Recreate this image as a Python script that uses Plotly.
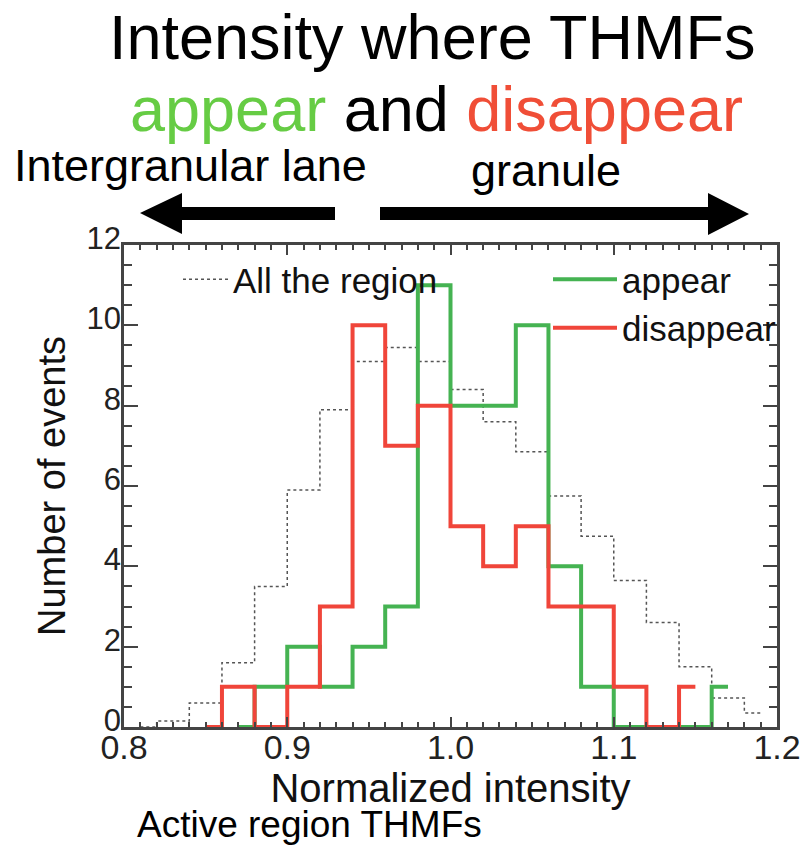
import plotly.graph_objects as go

# ---- data (bin centres, bin width 0.02) ----
all_x = [0.81, 0.83, 0.85, 0.87, 0.89, 0.91, 0.93, 0.95, 0.97, 0.99,
         1.01, 1.03, 1.05, 1.07, 1.09, 1.11, 1.13, 1.15, 1.17, 1.19]
all_y = [0.0, 0.15, 0.6, 1.6, 3.5, 5.9, 7.9, 9.1, 9.45, 9.1,
         8.4, 7.6, 6.85, 5.75, 4.75, 3.65, 2.6, 1.5, 0.72, 0.35]

appear_x = [0.87, 0.89, 0.91, 0.93, 0.95, 0.97, 0.99, 1.01,
            1.03, 1.05, 1.07, 1.09, 1.11, 1.13, 1.15, 1.17]
appear_y = [0, 1, 2, 1, 2, 3, 11, 8, 8, 10, 4, 1, 0, 0, 0, 1]

disappear_x = [0.85, 0.87, 0.89, 0.91, 0.93, 0.95, 0.97, 0.99,
               1.01, 1.03, 1.05, 1.07, 1.09, 1.11, 1.13, 1.15]
disappear_y = [0, 1, 0, 1, 3, 10, 7, 8, 5, 4, 5, 3, 3, 1, 0, 1]

x_ticks = [0.8, 0.9, 1.0, 1.1, 1.2]
x_tick_labels = ["0.8", "0.9", "1.0", "1.1", "1.2"]
y_ticks = [0, 2, 4, 6, 8, 10, 12]

FONT = "Liberation Sans, Arial, Helvetica, sans-serif"
GREEN = "#45b352"
RED = "#f0453a"
GREEN_T = "#66cc44"
RED_T = "#f04e37"

W, H = 801, 845
L, R, T, B = 124, 24, 245, 118
PW, PH = W - L - R, H - T - B


def px(xp):
    return (xp - L) / PW


def py(yp):
    return (H - B - yp) / PH


fig = go.Figure()
fig.add_trace(go.Scatter(x=all_x, y=all_y, mode="lines", name="All the region",
                         line=dict(color="#555555", width=1.5, dash="dot", shape="hvh"),
                         legend="legend"))
fig.add_trace(go.Scatter(x=appear_x, y=appear_y, mode="lines", name="appear",
                         line=dict(color=GREEN, width=4, shape="hvh"),
                         legend="legend2"))
fig.add_trace(go.Scatter(x=disappear_x, y=disappear_y, mode="lines", name="disappear",
                         line=dict(color=RED, width=4, shape="hvh"),
                         legend="legend2"))

axis_common = dict(showgrid=False, zeroline=False, showline=True, linecolor="#444444",
                   linewidth=2.5, mirror="allticks", ticks="inside", tickcolor="#444444",
                   tickwidth=2)

fig.update_xaxes(range=[0.8, 1.2], tickvals=x_ticks, ticktext=x_tick_labels, ticklen=10,
                 minor=dict(dtick=0.01, ticks="inside", ticklen=5, tickcolor="#444444", tickwidth=1.5),
                 tickfont=dict(family=FONT, size=34, color="#222222"),
                 title=dict(text="Normalized intensity", font=dict(family=FONT, size=40, color="#111111"),
                            standoff=0),
                 ticklabelstandoff=-12,
                 **axis_common)
fig.update_yaxes(range=[0, 12], tickvals=y_ticks, ticklen=14,
                 minor=dict(dtick=0.5, ticks="inside", ticklen=8, tickcolor="#444444", tickwidth=1.5),
                 tickfont=dict(family=FONT, size=31, color="#222222"),
                 title=dict(text="Number of events", font=dict(family=FONT, size=38, color="#111111"),
                            standoff=10),
                 ticklabelstandoff=-6, ticklabelshift=-7,
                 **axis_common)

shapes = []
# left arrow (towards intergranular lane)
shapes.append(dict(type="path", xref="paper", yref="paper", fillcolor="black", line=dict(width=0),
                   path=(f"M{px(140)},{py(213)} L{px(182)},{py(193)} L{px(182)},{py(207)} "
                         f"L{px(335)},{py(207)} L{px(335)},{py(220)} L{px(182)},{py(220)} "
                         f"L{px(182)},{py(234)} Z")))
# right arrow (towards granule)
shapes.append(dict(type="path", xref="paper", yref="paper", fillcolor="black", line=dict(width=0),
                   path=(f"M{px(749)},{py(214)} L{px(708)},{py(193)} L{px(708)},{py(207)} "
                         f"L{px(380)},{py(207)} L{px(380)},{py(220)} L{px(708)},{py(220)} "
                         f"L{px(708)},{py(235)} Z")))

annotations = [
    dict(text="Intensity where THMFs", x=px(432), y=py(37), xref="paper", yref="paper",
         showarrow=False, xanchor="center", yanchor="middle",
         font=dict(family=FONT, size=63, color="black")),
    dict(text=f"<span style='color:{GREEN_T}'>appear</span> and "
              f"<span style='color:{RED_T}'>disappear</span>",
         x=px(436), y=py(109), xref="paper", yref="paper",
         showarrow=False, xanchor="center", yanchor="middle",
         font=dict(family=FONT, size=63, color="black")),
    dict(text="Intergranular lane", x=px(190), y=py(166), xref="paper", yref="paper",
         showarrow=False, xanchor="center", yanchor="middle",
         font=dict(family=FONT, size=45, color="black")),
    dict(text="granule", x=px(546), y=py(170), xref="paper", yref="paper",
         showarrow=False, xanchor="center", yanchor="middle",
         font=dict(family=FONT, size=45, color="black")),
    dict(text="Active region THMFs", x=px(135), y=py(824), xref="paper", yref="paper",
         showarrow=False, xanchor="left", yanchor="middle",
         font=dict(family=FONT, size=37, color="black")),
]

fig.update_layout(
    width=W, height=H,
    margin=dict(l=L, r=R, t=T, b=B, autoexpand=False),
    paper_bgcolor="white", plot_bgcolor="white",
    font=dict(family=FONT, color="black"),
    shapes=shapes, annotations=annotations,
    showlegend=True,
    legend=dict(x=px(178), y=py(250), xanchor="left", yanchor="top", bgcolor="rgba(0,0,0,0)",
                itemwidth=45, font=dict(family=FONT, size=35, color="#111111"), borderwidth=0),
    legend2=dict(x=px(548), y=py(250), xanchor="left", yanchor="top", bgcolor="rgba(0,0,0,0)",
                 itemwidth=64, font=dict(family=FONT, size=35, color="#111111"), borderwidth=0,
                 tracegroupgap=0),
)

fig.write_html("out.html")
